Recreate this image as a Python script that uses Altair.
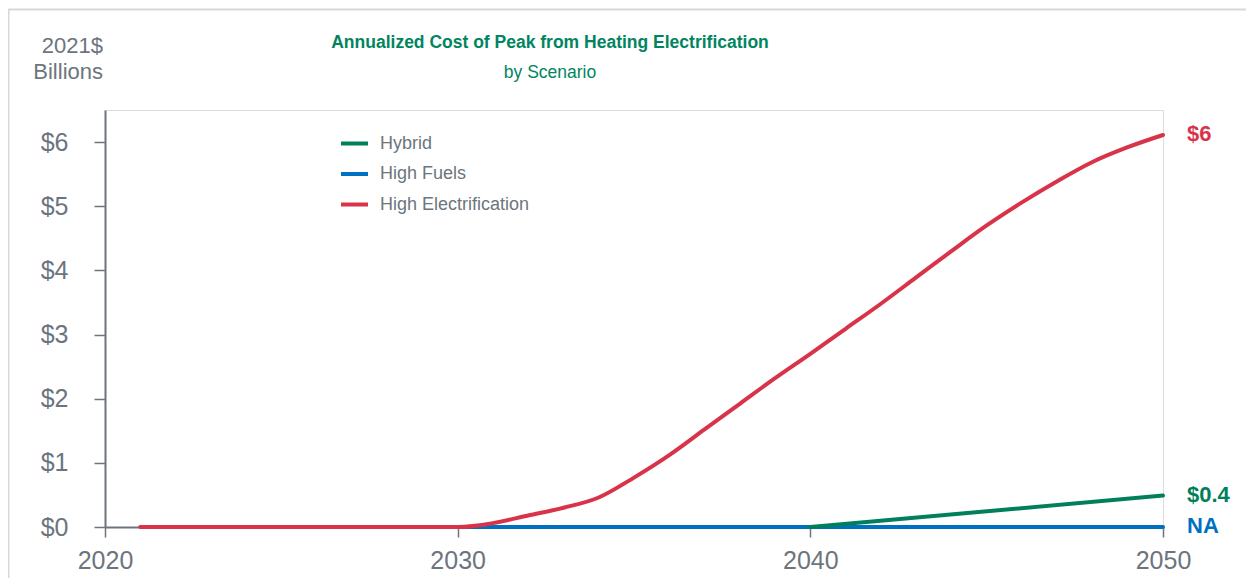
import altair as alt
import pandas as pd

# ---------------- data ----------------
series_names = ["Hybrid", "High Fuels", "High Electrification"]
series_colors = ["#00805A", "#0070C0", "#D9334A"]

he_years = [2021, 2022, 2023, 2024, 2025, 2026, 2027, 2028, 2029, 2030,
            2031, 2032, 2033, 2034, 2035, 2036, 2037, 2038, 2039, 2040,
            2041, 2042, 2043, 2044, 2045, 2046, 2047, 2048, 2049, 2050]
he_values = [0.0, 0.0, 0.0, 0.0, 0.0, 0.0, 0.0, 0.0, 0.0, 0.0,
             0.06, 0.18, 0.30, 0.46, 0.77, 1.12, 1.52, 1.92, 2.32, 2.70,
             3.09, 3.48, 3.89, 4.30, 4.70, 5.06, 5.39, 5.69, 5.92, 6.11]

hy_years = [2040, 2050]
hy_values = [0.0, 0.49]

hf_years = [2030, 2050]
hf_values = [0.0, 0.0]

end_series = ["High Electrification", "Hybrid", "High Fuels"]
end_years = [2050, 2050, 2050]
end_values = [6.11, 0.49, 0.0]
end_texts = ["$6", "$0.4", "NA"]

x_ticks = [2020, 2030, 2040, 2050]
y_ticks = [0, 1, 2, 3, 4, 5, 6]

title_text = "Annualized Cost of Peak from Heating Electrification"
subtitle_text = "by Scenario"
ytitle_lines = ["2021$", "Billions"]

# ---------------- style ----------------
GRAY = "#6C757D"
GREEN_T = "#00855F"
NARROW = "Liberation Sans Narrow, Arial Narrow, Liberation Sans, sans-serif"
REG = "Liberation Sans, Arial, sans-serif"
W, H = 1058, 417

rows = []
for n, ys, vs in [("High Electrification", he_years, he_values),
                  ("Hybrid", hy_years, hy_values),
                  ("High Fuels", hf_years, hf_values)]:
    for y, v in zip(ys, vs):
        rows.append({"series": n, "year": y, "value": v})
df = pd.DataFrame(rows)

ends = pd.DataFrame({"series": end_series, "year": end_years,
                     "value": end_values, "label": end_texts})

xenc = alt.X("year:Q", scale=alt.Scale(domain=[2020, 2050], nice=False, zero=False),
             axis=alt.Axis(values=x_ticks, format="d", title=None, grid=False,
                           tickSize=10, tickWidth=1.5, labelFontSize=25, labelFont=REG,
                           labelPadding=11, labelColor=GRAY, domainColor=GRAY,
                           domainWidth=2, tickColor=GRAY, labelFlush=False,
                           labelOverlap=False))
yenc = alt.Y("value:Q", scale=alt.Scale(domain=[0, 6.5], nice=False),
             axis=alt.Axis(values=y_ticks, labelExpr="'$' + datum.value", title=None,
                           grid=False, tickSize=11, tickWidth=1.5, labelFontSize=25,
                           labelFont=REG, labelPadding=26, labelColor=GRAY,
                           domainColor=GRAY, domainWidth=2, tickColor=GRAY))
color = alt.Color("series:N",
                  scale=alt.Scale(domain=series_names, range=series_colors),
                  legend=alt.Legend(orient="none", legendX=234, legendY=18, title=None,
                                    symbolType="stroke", symbolSize=729,
                                    symbolStrokeWidth=4, labelFont=NARROW,
                                    labelFontSize=18, labelColor=GRAY, rowPadding=5.5,
                                    labelOffset=10, padding=0, labelLimit=400))

base = alt.Chart(df).mark_line(strokeWidth=4, strokeCap="round", interpolate="monotone")
layers = []
for n in ["High Fuels", "Hybrid", "High Electrification"]:
    layers.append(base.transform_filter(alt.datum.series == n)
                  .encode(x=xenc, y=yenc, color=color))

label_layers = []
for n, c in zip(series_names, series_colors):
    label_layers.append(
        alt.Chart(ends).transform_filter(alt.datum.series == n)
        .mark_text(align="left", baseline="middle", dx=24, dy=-1, font=NARROW,
                   fontSize=22, fontWeight="bold", color=c)
        .encode(x=alt.X("year:Q"), y=alt.Y("value:Q"), text="label:N"))

border = alt.Chart(pd.DataFrame({"k": [1]})).mark_rect(
    fill=None, stroke="#D5D9DD", strokeWidth=2, clip=False).encode(
    x=alt.value(-96.5), y=alt.value(-100.5), x2=alt.value(1300), y2=alt.value(700))

title = alt.Chart(pd.DataFrame({"t": [title_text]})).mark_text(
    align="center", baseline="alphabetic", font=NARROW, fontSize=17.5,
    fontWeight="bold", color=GREEN_T).encode(
    text="t:N", x=alt.value(445), y=alt.value(-62))
subtitle = alt.Chart(pd.DataFrame({"t": [subtitle_text]})).mark_text(
    align="center", baseline="alphabetic", font=NARROW, fontSize=17.5,
    color=GREEN_T).encode(text="t:N", x=alt.value(445), y=alt.value(-32))
yt1 = alt.Chart(pd.DataFrame({"t": [ytitle_lines[0]]})).mark_text(
    align="right", baseline="alphabetic", font=REG, fontSize=22, color=GRAY).encode(
    text="t:N", x=alt.value(-2), y=alt.value(-57))
yt2 = alt.Chart(pd.DataFrame({"t": [ytitle_lines[1]]})).mark_text(
    align="right", baseline="alphabetic", font=REG, fontSize=22, color=GRAY).encode(
    text="t:N", x=alt.value(-2), y=alt.value(-31))

chart = alt.layer(border, title, subtitle, yt1, yt2, *layers, *label_layers).properties(
    width=W, height=H,
    autosize=alt.AutoSizeParams(type="none"),
    padding={"left": 97, "top": 102, "right": 83, "bottom": 51},
).configure_view(stroke=None).configure(background="white")

chart.save("out.html", embed_options={"renderer": "svg", "actions": False})
